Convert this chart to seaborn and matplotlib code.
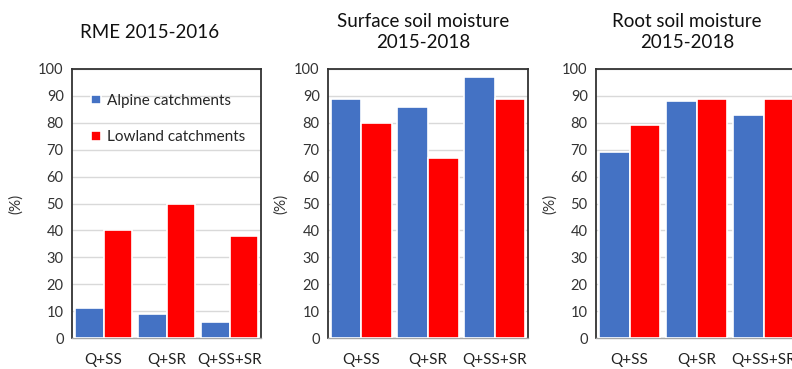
import matplotlib
matplotlib.use("Agg")
import matplotlib.pyplot as plt
import seaborn as sns
import pandas as pd

# Scenario categories and catchment groups
combos = ["Q+SS", "Q+SR", "Q+SS+SR"]
groups = ["Alpine catchments", "Lowland catchments"]

# Percentages per panel
rme_alpine = [11, 9, 6]
rme_lowland = [40, 50, 38]
ssm_alpine = [89, 86, 97]
ssm_lowland = [80, 67, 89]
rsm_alpine = [69, 88, 83]
rsm_lowland = [79, 89, 89]

titles = ["RME 2015-2016", "Surface soil moisture\n2015-2018", "Root soil moisture\n2015-2018"]
yticks = list(range(0, 101, 10))

sns.set_theme(style="white")
plt.rcParams["font.family"] = ["Lato", "DejaVu Sans"]

palette = {"Alpine catchments": "#4472C4", "Lowland catchments": "#FF0000"}


def make_frame(alpine, lowland):
    return pd.DataFrame({
        "combo": combos * 2,
        "group": [groups[0]] * 3 + [groups[1]] * 3,
        "value": alpine + lowland,
    })


frames = [
    make_frame(rme_alpine, rme_lowland),
    make_frame(ssm_alpine, ssm_lowland),
    make_frame(rsm_alpine, rsm_lowland),
]

W, H = 792, 369
fig = plt.figure(figsize=(W / 100, H / 100), dpi=100)

# axes boxes in pixels: left, right
boxes = [(72, 261), (328, 528), (596, 797)]
top_px, bottom_px = 69, 338
title_pos = [(150, 33), (423, 32), (687, 32)]
ylabel_x = [23, 288, 557]

for i, (df, (l, r)) in enumerate(zip(frames, boxes)):
    ax = fig.add_axes([l / W, 1 - bottom_px / H, (r - l) / W, (bottom_px - top_px) / H])
    sns.barplot(data=df, x="combo", y="value", hue="group", order=combos,
                hue_order=groups, palette=palette, width=0.92, saturation=1,
                edgecolor="white", linewidth=1.2, ax=ax, zorder=3)
    ax.set_ylim(0, 100)
    ax.set_xlim(-0.5, 2.5)
    ax.set_yticks(yticks)
    ax.set_yticklabels([str(t) for t in yticks], fontsize=10.5, color="#333333")
    ax.tick_params(axis="x", pad=10.5, labelsize=11, colors="#222222", length=0)
    ax.tick_params(axis="y", pad=6, length=0)
    ax.grid(axis="y", color="#D9D9D9", linewidth=1, zorder=0)
    ax.set_axisbelow(True)
    ax.set_xlabel("")
    ax.set_ylabel("(%)", fontsize=11, color="#333333")
    ax.yaxis.set_label_coords((ylabel_x[i] - l) / (r - l), 0.5)
    for side in ["top", "left", "right"]:
        ax.spines[side].set_visible(True)
        ax.spines[side].set_color("#333333")
        ax.spines[side].set_linewidth(1.3)
    ax.spines["bottom"].set_color("#A6A6A6")
    ax.spines["bottom"].set_linewidth(1.0)
    tx, ty = title_pos[i]
    fig.text(tx / W, 1 - ty / H, titles[i], ha="center", va="center",
             fontsize=13.5, color="#111111", linespacing=1.35)
    if i == 0:
        ax.legend(loc="upper left", bbox_to_anchor=(0.07, 0.93), frameon=False,
                  fontsize=11, handlelength=0.6, handleheight=0.6,
                  handletextpad=0.4, labelspacing=1.45, borderaxespad=0)
    else:
        ax.get_legend().remove()

fig.savefig("out.png", dpi=100)
